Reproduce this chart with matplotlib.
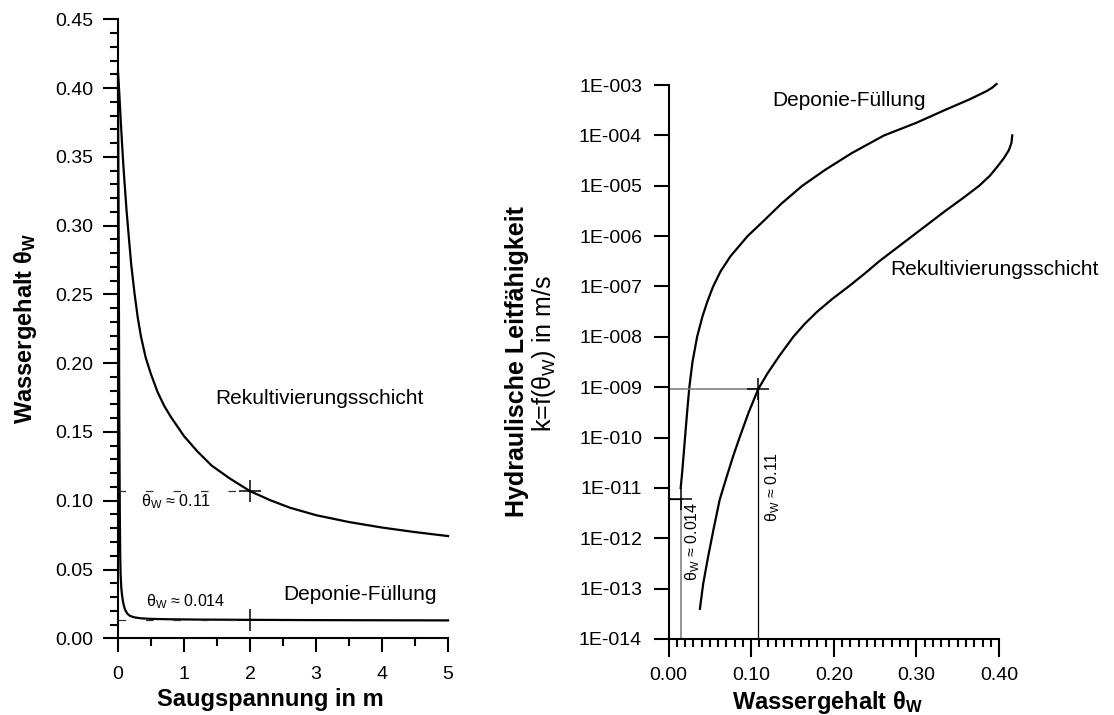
import matplotlib
matplotlib.use("Agg")
import matplotlib.pyplot as plt
import numpy as np
from matplotlib.ticker import MultipleLocator, FixedLocator, FuncFormatter, NullLocator

plt.rcParams.update({
    "font.family": ["Liberation Sans", "DejaVu Sans"],
    "mathtext.fontset": "custom",
    "mathtext.rm": "Liberation Sans",
    "mathtext.it": "Liberation Sans:italic",
    "mathtext.bf": "Liberation Sans:bold",
    "axes.linewidth": 1.5,
    "axes.spines.top": False,
    "axes.spines.right": False,
})

# ---------------------------------------------------------------- data
# left: water retention, suction (m) vs water content
SUCTION_REKULT = [0.0, 0.02, 0.04, 0.06, 0.08, 0.10, 0.13, 0.16, 0.20, 0.25,
                  0.30, 0.35, 0.42, 0.50, 0.60, 0.70, 0.80, 0.90, 1.00, 1.20,
                  1.42, 1.70, 2.00, 2.30, 2.60, 3.00, 3.50, 4.00, 4.50, 5.00]
THETA_REKULT = [0.412, 0.396, 0.378, 0.361, 0.345, 0.331, 0.311, 0.294, 0.272,
                0.251, 0.233, 0.219, 0.204, 0.192, 0.179, 0.169, 0.161, 0.154,
                0.147, 0.136, 0.1255, 0.116, 0.107, 0.1005, 0.0950, 0.0895,
                0.0845, 0.0805, 0.0772, 0.0743]

SUCTION_DEPONIE = [0.0, 0.01, 0.02, 0.028, 0.034, 0.04, 0.05, 0.06, 0.075,
                   0.09, 0.11, 0.14, 0.18, 0.25, 0.35, 0.50, 0.80, 1.20, 2.00,
                   3.00, 5.00]
THETA_DEPONIE = [0.41, 0.30, 0.16, 0.09, 0.060, 0.046, 0.037, 0.032, 0.027,
                 0.0235, 0.0205, 0.018, 0.0163, 0.0152, 0.0145, 0.0141,
                 0.0138, 0.0136, 0.0134, 0.0132, 0.0130]

# right: hydraulic conductivity, log10 of k(theta) in m/s
THETA_K_DEPONIE = [0.0147, 0.0165, 0.0185, 0.0200, 0.0225, 0.0252, 0.029,
                   0.0346, 0.041, 0.047, 0.054, 0.063, 0.075, 0.0957, 0.115,
                   0.137, 0.162, 0.190, 0.222, 0.261, 0.300, 0.334, 0.365,
                   0.385, 0.392, 0.397]
LOGK_DEPONIE = [-11.0, -10.7, -10.3, -10.0, -9.5, -9.0, -8.5, -8.0, -7.6,
                -7.3, -7.0, -6.7, -6.4, -6.0, -5.7, -5.35, -5.0, -4.68, -4.35,
                -4.0, -3.75, -3.5, -3.28, -3.12, -3.05, -2.98]

THETA_K_REKULT = [0.038, 0.042, 0.048, 0.055, 0.062, 0.070, 0.078, 0.086,
                  0.097, 0.1085, 0.120, 0.1345, 0.151, 0.165, 0.180, 0.198,
                  0.218, 0.237, 0.255, 0.275, 0.295, 0.315, 0.335, 0.356,
                  0.376, 0.389, 0.398, 0.406, 0.412, 0.415, 0.416]
LOGK_REKULT = [-13.4, -12.9, -12.36, -11.78, -11.23, -10.8, -10.38, -10.0,
               -9.5, -9.04, -8.72, -8.37, -8.0, -7.74, -7.5, -7.25, -7.0,
               -6.75, -6.5, -6.25, -6.0, -5.75, -5.5, -5.25, -5.0, -4.8,
               -4.62, -4.45, -4.29, -4.15, -4.0]

# marked working points
PSI_MARK = 2.0
THETA_MARK_REKULT = 0.107
THETA_MARK_DEPONIE = 0.0135
LOGK_MARK_REKULT = -9.04
LOGK_MARK_DEPONIE = -11.22
THETA_K_MARK_REKULT = 0.1085
THETA_K_MARK_DEPONIE = 0.015

Y_TICKS_LEFT = [0.0, 0.05, 0.10, 0.15, 0.20, 0.25, 0.30, 0.35, 0.40, 0.45]
K_EXPONENTS = [-14, -13, -12, -11, -10, -9, -8, -7, -6, -5, -4, -3]

TW = r"θ$_\mathregular{W}$"
TWB = r"θ$_\mathbf{W}$"
LW = 1.6

fig = plt.figure(figsize=(11.14, 7.15), dpi=100)

# ---------------------------------------------------------------- left panel
ax1 = fig.add_axes([0.1059, 0.1073, 0.2963, 0.8657])
ax1.plot(SUCTION_REKULT, THETA_REKULT, color="black", lw=LW, clip_on=False)
ax1.plot(SUCTION_DEPONIE, THETA_DEPONIE, color="black", lw=LW, clip_on=False)

dash = (0, (6, 16))
ax1.plot([0, PSI_MARK], [THETA_MARK_REKULT] * 2, color="#333333", lw=0.9,
         ls=dash)
ax1.plot([0, PSI_MARK], [THETA_MARK_DEPONIE] * 2, color="#333333", lw=0.9,
         ls=dash)
ax1.plot([PSI_MARK, PSI_MARK], [THETA_MARK_REKULT, THETA_MARK_DEPONIE],
         ls="none", marker="+", ms=16, mew=1.1, color="black")

ax1.set_xlim(0, 5)
ax1.set_ylim(0, 0.45)
ax1.xaxis.set_major_locator(MultipleLocator(1))
ax1.xaxis.set_minor_locator(MultipleLocator(0.5))
ax1.yaxis.set_major_locator(FixedLocator(Y_TICKS_LEFT))
ax1.yaxis.set_minor_locator(MultipleLocator(0.01))
ax1.yaxis.set_major_formatter(FuncFormatter(lambda v, p: f"{v:.2f}"))
ax1.tick_params(which="major", direction="out", length=11, width=1.5,
                labelsize=14)
ax1.tick_params(which="minor", direction="out", length=6, width=1.5)
ax1.tick_params(axis="x", which="major", length=10, pad=10)
ax1.tick_params(axis="x", which="minor", length=6)
ax1.tick_params(axis="y", pad=7)

ax1.text(3.05, 0.1744, "Rekultivierungsschicht", fontsize=15,
         ha="center", va="center")
ax1.text(3.67, 0.0315, "Deponie-Füllung", fontsize=15,
         ha="center", va="center")
ax1.text(0.875, 0.0993, TW + " ≈ 0.11", fontsize=11.5, ha="center",
         va="center")
ax1.text(1.02, 0.0266, TW + " ≈ 0.014", fontsize=11.5, ha="center",
         va="center")

ax1.set_xlabel("Saugspannung in m", fontsize=17, fontweight="bold")
ax1.xaxis.label.set_va("center")
ax1.xaxis.set_label_coords(0.463, -0.0997)
ax1.set_ylabel("Wassergehalt " + TWB, fontsize=17, fontweight="bold")
ax1.yaxis.label.set_va("center")
ax1.yaxis.set_label_coords(-0.279, 0.5)

# ---------------------------------------------------------------- right panel
ax2 = fig.add_axes([0.6001, 0.1063, 0.2967, 0.7748])
ax2.set_yscale("log")
ax2.plot(THETA_K_DEPONIE, np.power(10.0, LOGK_DEPONIE), color="black", lw=LW,
         clip_on=False)
ax2.plot(THETA_K_REKULT, np.power(10.0, LOGK_REKULT), color="black", lw=LW,
         clip_on=False)

k_rek = 10.0 ** LOGK_MARK_REKULT
k_dep = 10.0 ** LOGK_MARK_DEPONIE
ax2.plot([0, THETA_K_MARK_REKULT], [k_rek] * 2, color="#777777", lw=1.1)
ax2.plot([THETA_K_MARK_REKULT] * 2, [1e-14, k_rek], color="black", lw=0.9)
ax2.plot([0, THETA_K_MARK_DEPONIE], [k_dep] * 2, color="black", lw=0.9)
ax2.plot([THETA_K_MARK_DEPONIE] * 2, [1e-14, k_dep], color="#777777", lw=1.1)
ax2.plot([THETA_K_MARK_REKULT, THETA_K_MARK_DEPONIE], [k_rek, k_dep],
         ls="none", marker="+", ms=16, mew=1.1, color="black")

ax2.set_xlim(0, 0.40)
ax2.set_ylim(1e-14, 1e-3)
ax2.xaxis.set_major_locator(MultipleLocator(0.1))
ax2.xaxis.set_minor_locator(MultipleLocator(0.01))
ax2.xaxis.set_major_formatter(FuncFormatter(lambda v, p: f"{v:.2f}"))
ax2.yaxis.set_major_locator(FixedLocator([10.0 ** e for e in K_EXPONENTS]))
ax2.yaxis.set_minor_locator(NullLocator())
ax2.yaxis.set_major_formatter(
    FuncFormatter(lambda v, p: f"1E-{int(round(-np.log10(v))):03d}"))
ax2.tick_params(which="major", direction="out", length=11, width=1.5,
                labelsize=14)
ax2.tick_params(which="minor", direction="out", length=6, width=1.5)
ax2.tick_params(axis="x", which="major", length=13, pad=7)
ax2.tick_params(axis="y", pad=8)

ax2.text(0.218, 10 ** -3.30, "Deponie-Füllung", fontsize=15,
         ha="center", va="center")
ax2.text(0.394, 10 ** -6.67, "Rekultivierungsschicht", fontsize=15,
         ha="center", va="center", clip_on=False)
ax2.text(0.0296, 10 ** -12.06, TW + " ≈ 0.014", fontsize=11.5, rotation=90,
         ha="center", va="center")
ax2.text(0.126, 10 ** -10.98, TW + " ≈ 0.11", fontsize=11.5, rotation=90,
         ha="center", va="center")

ax2.set_xlabel("Wassergehalt " + TWB, fontsize=17, fontweight="bold")
ax2.xaxis.label.set_va("center")
ax2.xaxis.set_label_coords(0.48, -0.1155)
ax2.text(-0.457, 0.5, "Hydraulische Leitfähigkeit", transform=ax2.transAxes,
         rotation=90, fontsize=18, fontweight="bold", ha="center", va="center")
ax2.text(-0.378, 0.515, "k=f(" + TW + ") in m/s", transform=ax2.transAxes,
         rotation=90, fontsize=18, ha="center", va="center")

fig.savefig("out.png", dpi=100)
